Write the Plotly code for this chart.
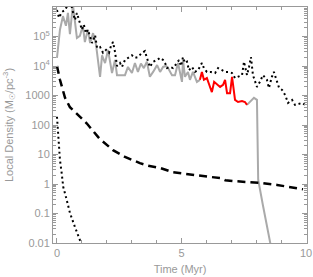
import plotly.graph_objects as go

# Gray solid (early phase)
gray1_t = [0.00, 0.12, 0.24, 0.36, 0.44, 0.52, 0.64, 0.72, 0.80, 0.92, 1.04, 1.12, 1.24, 1.33, 1.45, 1.57,
           1.73, 1.81, 1.93, 2.05, 2.21, 2.33, 2.41, 2.57, 2.73, 2.85, 3.01, 3.13, 3.25, 3.37, 3.49, 3.61,
           3.73, 3.86, 4.02, 4.14, 4.26, 4.38, 4.46, 4.62, 4.74, 4.86, 5.02, 5.06, 5.14, 5.26, 5.34, 5.46,
           5.62, 5.74]
gray1_d = [1.9e4, 1.7e5, 4.9e5, 2.3e5, 6.3e5, 1.2e5, 1.2e6, 3.1e5, 8.9e4, 1.05e5, 2.3e5, 6.5e4, 1.7e5, 6.0e4, 1.3e5, 5.1e4,
           4.3e3, 2.3e4, 1.26e4, 3.5e4, 5.8e3, 1.6e4, 4.9e3, 4.9e3, 4.9e3, 9.3e3, 5.8e3, 1.26e4, 6.3e3, 1.2e4, 8.5e3, 1.4e4,
           4.3e3, 6.3e3, 1.07e4, 6.3e3, 9.3e3, 1.0e4, 8.5e3, 4.9e3, 4.9e3, 1.26e4, 2.9e3, 1.6e4, 4.3e3, 6.3e3, 3.4e3, 6.3e3,
           2.9e3, 3.4e3]

# Red solid segment
red_t = [5.74, 5.82, 5.90, 6.02, 6.10, 6.22, 6.31, 6.43, 6.55, 6.67, 6.75, 6.83, 6.95, 7.03, 7.15, 7.27, 7.43, 7.55, 7.63]
red_d = [3.4e3, 6.3e3, 3.4e3, 3.9e3, 2.5e3, 1.3e3, 2.9e3, 2.3e3, 1.95e3, 2.3e3, 3.4e3, 1.2e3, 1.2e3, 4.3e3, 710, 600, 650, 600, 480]

# Gray solid (late phase and collapse)
gray2_t = [7.63, 7.75, 7.91, 8.03, 8.04, 8.06, 8.08, 8.27, 8.43, 8.56, 8.60]
gray2_d = [480, 600, 830, 710, 100, 10, 1.4, 0.19, 0.041, 0.01, 0.007]

# Black dotted (upper)
dot_t = [0.00, 0.08, 0.20, 0.32, 0.44, 0.56, 0.64, 0.72, 0.80, 0.92, 1.00, 1.08, 1.16, 1.24, 1.33, 1.41, 1.53, 1.61,
         1.73, 1.85, 1.97, 2.09, 2.17, 2.25, 2.33, 2.41, 2.53, 2.61, 2.73, 2.85, 3.01, 3.13, 3.25, 3.41, 3.53, 3.61,
         3.73, 3.86, 4.02, 4.14, 4.26, 4.34, 4.42, 4.54, 4.66, 4.82, 4.90, 4.98, 5.06, 5.14, 5.22, 5.30, 5.42, 5.54,
         5.66, 5.82, 5.90, 6.02, 6.18, 6.35, 6.47, 6.63, 6.75, 6.91, 7.03, 7.15, 7.27, 7.43, 7.51, 7.63, 7.71, 7.79,
         7.87, 8.03, 8.15, 8.27, 8.43, 8.51, 8.63, 8.71, 8.84, 8.92, 9.04, 9.16, 9.28, 9.44, 9.56, 9.72, 9.84, 9.96]
dot_d = [7.9e5, 4.3e5, 6.8e5, 7.9e5, 1.2e6, 1.3e6, 6.8e5, 3.6e5, 6.3e5, 2.6e5, 1.7e5, 2.5e5, 1.3e5, 1.7e5, 8.9e4, 6.0e4, 1.1e5, 4.1e4,
         4.4e4, 2.8e4, 3.5e4, 2.8e4, 4.8e4, 6.5e4, 3.0e4, 1.0e4, 1.26e4, 9.3e3, 1.6e4, 1.9e4, 2.3e4, 1.9e4, 2.0e4, 2.8e4, 3.2e4, 1.9e4,
         9.3e3, 1.4e4, 1.6e4, 1.9e4, 1.6e4, 1.26e4, 8.5e3, 9.3e3, 8.5e3, 1.26e4, 1.6e4, 1.0e4, 2.0e4, 1.26e4, 1.4e4, 7.2e3, 9.3e3, 6.3e3,
         7.2e3, 1.26e4, 8.5e3, 6.3e3, 6.3e3, 5.8e3, 8.5e3, 7.2e3, 6.3e3, 6.3e3, 5.8e3, 3.9e3, 4.3e3, 4.9e3, 1.4e4, 4.9e3, 9.3e3, 2.0e4,
         4.9e3, 1.95e3, 2.9e3, 4.9e3, 3.4e3, 1.8e3, 4.3e3, 6.3e3, 2.9e3, 1.8e3, 1.55e3, 1.05e3, 560, 710, 480, 510, 560, 480]

# Black dashed
dash_t = [0.00, 0.12, 0.32, 0.52, 0.80, 1.20, 1.70, 2.25, 2.73, 3.33, 3.65, 4.14, 4.66, 5.46, 6.14, 6.55, 6.75,
          7.07, 7.75, 8.27, 8.84, 9.36, 9.88]
dash_d = [1.0e4, 3.4e3, 850, 400, 240, 112, 35, 14, 8.3, 5.1, 4.2, 3.5, 2.5, 2.0, 1.74, 1.6, 1.35,
          1.26, 1.17, 1.07, 0.93, 0.79, 0.66]

# Black dotted (lower, steep)
low_t = [0.00, 0.06, 0.12, 0.19, 0.25, 0.39, 0.52, 0.72, 0.92, 1.00, 1.04]
low_d = [190, 24, 6.5, 2.3, 0.8, 0.29, 0.105, 0.035, 0.0126, 0.01, 0.008]

y_tickvals = [0.01, 0.1, 1, 10, 100, 1000, 1e4, 1e5, 1e6]
y_ticktext = ["0.01", "0.1", "1", "10", "100", "1000", "10<sup>4</sup>", "10<sup>5</sup>", "10<sup>6</sup>"]
x_tickvals = [0, 5, 10]

AX = "#999999"
GRAY = "#aaaaaa"

fig = go.Figure()
fig.add_trace(go.Scatter(x=gray1_t, y=gray1_d, mode="lines", line=dict(color=GRAY, width=2)))
fig.add_trace(go.Scatter(x=gray2_t, y=gray2_d, mode="lines", line=dict(color=GRAY, width=2)))
fig.add_trace(go.Scatter(x=red_t, y=red_d, mode="lines", line=dict(color="#ff0000", width=2)))
fig.add_trace(go.Scatter(x=dash_t, y=dash_d, mode="lines", line=dict(color="black", width=2.5, dash="8px,5px")))
fig.add_trace(go.Scatter(x=dot_t, y=dot_d, mode="lines", line=dict(color="black", width=2, dash="2px,3px")))
fig.add_trace(go.Scatter(x=low_t, y=low_d, mode="lines", line=dict(color="black", width=2, dash="2px,3px")))

fig.update_layout(
    width=313, height=277,
    margin=dict(l=53, r=6, t=7, b=34),
    paper_bgcolor="white", plot_bgcolor="white",
    showlegend=False,
    font=dict(family="Liberation Sans", size=11, color=AX),
)
fig.update_xaxes(
    automargin=False,
    range=[-0.16, 10.04], tickvals=x_tickvals, ticktext=["0", "5", "10"],
    showgrid=False, zeroline=False, showline=True, linecolor=AX, linewidth=1, mirror="allticks",
    ticks="inside", ticklen=5, tickcolor=AX,
    minor=dict(dtick=1, ticks="inside", ticklen=3, tickcolor=AX, showgrid=False),
    title=dict(text="Time (Myr)", font=dict(size=11, color=AX), standoff=7),
    tickfont=dict(size=11, color=AX),
)
fig.update_yaxes(
    automargin=False,
    type="log", range=[-2, 6], tickvals=y_tickvals, ticktext=y_ticktext,
    showgrid=False, zeroline=False, showline=True, linecolor=AX, linewidth=1, mirror="allticks",
    ticks="inside", ticklen=5, tickcolor=AX,
    minor=dict(dtick="D1", ticks="inside", ticklen=3, tickcolor=AX, showgrid=False),
    title=dict(text="Local Density (M<sub>☉</sub>/pc<sup>-3</sup>)", font=dict(size=11, color=AX), standoff=9),
    tickfont=dict(size=11, color=AX),
)
fig.write_html("out.html", config={"displayModeBar": False},
               post_script="document.body.style.margin='0';document.body.style.overflow='hidden';")
